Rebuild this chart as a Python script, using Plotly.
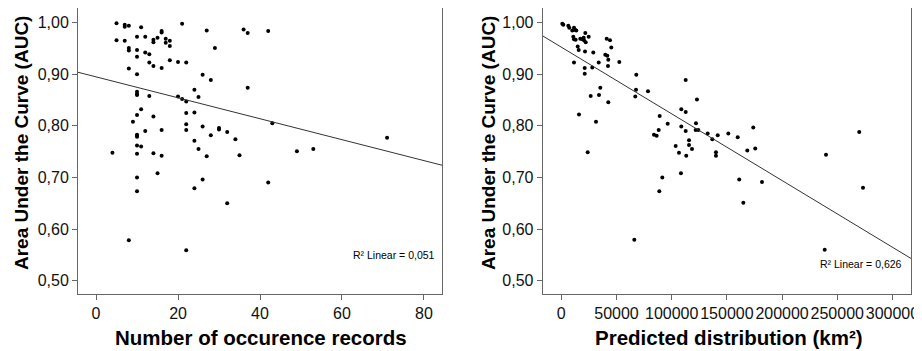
import plotly.graph_objects as go

# ---- data ----
occ_records = [5, 7, 7, 8, 11, 21, 27, 36, 37,
               5, 7, 10, 12, 14, 14, 15, 16, 16, 17, 17, 18, 18,
               8, 8, 10, 10, 12, 13, 13, 14, 16, 18, 20, 22, 29,
               8, 10, 26, 28, 37,
               10, 10, 10, 13, 20, 21, 22, 24, 25,
               11, 10, 9, 14, 22, 24,
               22, 22, 26, 30, 30, 32, 34, 28, 16, 12, 10, 10, 10, 24, 10, 11, 25, 4, 10, 14, 16, 27, 35,
               10, 15, 10, 26, 24, 32, 8, 22,
               42, 43, 49, 53, 71, 42]
auc_left = [0.999, 0.996, 0.992, 0.994, 0.991, 0.998, 0.985, 0.987, 0.980,
            0.966, 0.965, 0.973, 0.973, 0.967, 0.962, 0.971, 0.984, 0.981, 0.969, 0.961, 0.965, 0.955,
            0.951, 0.946, 0.947, 0.934, 0.942, 0.939, 0.923, 0.916, 0.912, 0.927, 0.924, 0.923, 0.951,
            0.911, 0.900, 0.899, 0.889, 0.874,
            0.866, 0.862, 0.860, 0.858, 0.857, 0.852, 0.847, 0.870, 0.856,
            0.832, 0.821, 0.808, 0.818, 0.825, 0.826,
            0.803, 0.792, 0.799, 0.796, 0.793, 0.788, 0.774, 0.782, 0.792, 0.790, 0.783, 0.781, 0.779,
            0.771, 0.762, 0.760, 0.755, 0.748, 0.746, 0.747, 0.742, 0.741, 0.743,
            0.700, 0.708, 0.673, 0.696, 0.679, 0.650, 0.578, 0.559,
            0.984, 0.805, 0.751, 0.755, 0.777, 0.690]

pred_dist = [906, 1800, 6340, 7250, 9960, 11500, 12700, 13590, 21740,
             10870, 11500, 13000, 17210, 19020, 20560, 20260, 22100, 24800, 41120, 44110, 45290,
             14850, 15760, 21470, 28990, 39860, 41670, 42570, 42300, 52540, 33880, 11500, 21200, 28080, 21200,
             67940, 112700, 67670, 35330, 78530, 26630, 34150, 67030, 42570, 122900,
             108700, 112700, 16030, 89120, 31430, 96360, 108700, 122000, 88220, 112700, 121700, 124100,
             132600, 136800, 141700, 83970, 86390, 115700, 115700, 118400, 103600, 106600, 113200, 23900,
             140100, 140100,
             91490, 88770, 108400, 66130,
             151300, 159800, 173900, 168500, 175700, 239800, 269900,
             161200, 181800, 164900, 273300, 238600]
auc_right = [0.998, 0.996, 0.994, 0.990, 0.985, 0.990, 0.986, 0.985, 0.980,
             0.973, 0.968, 0.967, 0.969, 0.968, 0.966, 0.971, 0.962, 0.973, 0.969, 0.966, 0.952,
             0.954, 0.947, 0.944, 0.942, 0.938, 0.936, 0.928, 0.916, 0.924, 0.923, 0.923, 0.912, 0.913, 0.901,
             0.899, 0.889, 0.870, 0.874, 0.867, 0.858, 0.860, 0.857, 0.846, 0.851,
             0.832, 0.827, 0.822, 0.819, 0.808, 0.804, 0.799, 0.805, 0.792, 0.790, 0.792, 0.792,
             0.785, 0.774, 0.782, 0.783, 0.781, 0.772, 0.763, 0.755, 0.761, 0.748, 0.742, 0.749,
             0.749, 0.742,
             0.700, 0.673, 0.708, 0.579,
             0.785, 0.778, 0.797, 0.752, 0.756, 0.744, 0.788,
             0.696, 0.691, 0.651, 0.680, 0.560]

# linear fits as shown in the reference
fit_left = (0.895, -0.00203)        # intercept, slope
fit_right = (0.9526, -1.293e-6)
r2_left = "R² Linear = 0,051"
r2_right = "R² Linear = 0,626"

xrange_left = [-4.4, 84.4]
xrange_right = [-16850, 316800]
yrange = [0.475, 1.0285]

x_ticks_left = [0, 20, 40, 60, 80]
x_ticks_right = [0, 50000, 100000, 150000, 200000, 250000, 300000]
y_ticks = [0.5, 0.6, 0.7, 0.8, 0.9, 1.0]

FONT = "Liberation Sans, Arial, sans-serif"

# page body has an 8px margin: figure occupies 914x343 starting at (8, 8)
W, H, OFF = 914, 343, 8


def px(x):
    return min(1.0, max(0.0, (x - OFF) / W))


def py(y):
    return min(1.0, max(0.0, 1 - (y - OFF) / H))


fig = go.Figure()
fig.add_trace(go.Scatter(x=occ_records, y=auc_left, mode="markers",
                         marker=dict(color="black", size=4), xaxis="x", yaxis="y"))
fig.add_trace(go.Scatter(x=xrange_left,
                         y=[fit_left[0] + fit_left[1] * v for v in xrange_left],
                         mode="lines", line=dict(color="#333", width=1), xaxis="x", yaxis="y"))
fig.add_trace(go.Scatter(x=pred_dist, y=auc_right, mode="markers",
                         marker=dict(color="black", size=4), xaxis="x2", yaxis="y2"))
fig.add_trace(go.Scatter(x=xrange_right,
                         y=[fit_right[0] + fit_right[1] * v for v in xrange_right],
                         mode="lines", line=dict(color="#333", width=1), xaxis="x2", yaxis="y2"))

axis_common = dict(showline=True, linecolor="#666", linewidth=1, mirror=True,
                   ticks="outside", ticklen=5, tickcolor="#666", showgrid=False, zeroline=False,
                   automargin=False, tickangle=0,
                   tickfont=dict(family=FONT, size=16, color="#111"))
ydom = [py(293.5), py(8)]

fig.update_layout(
    width=W, height=H, margin=dict(l=0, r=0, t=0, b=0),
    paper_bgcolor="white", plot_bgcolor="white", showlegend=False,
    separators=",.",
    xaxis=dict(domain=[px(78), px(442)], range=xrange_left, tickvals=x_ticks_left,
               anchor="y", **axis_common),
    yaxis=dict(domain=ydom, range=yrange, tickvals=y_ticks, tickformat=".2f",
               anchor="x", **axis_common),
    xaxis2=dict(domain=[px(542.7), px(911)], range=xrange_right, tickvals=x_ticks_right,
                tickformat="d", anchor="y2", **axis_common),
    yaxis2=dict(domain=ydom, range=yrange, tickvals=y_ticks, tickformat=".2f",
                anchor="x2", **axis_common),
)

ytitle_font = dict(family=FONT, size=19, color="black")
xtitle_font = dict(family=FONT, size=20.5, color="black")
anns = [
    dict(text="<b>Area Under the Curve (AUC)</b>", x=px(21), y=py(143), textangle=-90, font=ytitle_font),
    dict(text="<b>Area Under the Curve (AUC)</b>", x=px(488), y=py(143), textangle=-90, font=ytitle_font),
    dict(text="<b>Number of occurence records</b>", x=px(261), y=py(337), font=xtitle_font),
    dict(text="<b>Predicted distribution (km²)</b>", x=px(729), y=py(337), font=xtitle_font),
]
for a in anns:
    fig.add_annotation(xref="paper", yref="paper", showarrow=False,
                       xanchor="center", yanchor="middle", **a)
fig.add_annotation(xref="paper", yref="paper", x=px(437), y=py(255), text=r2_left,
                   showarrow=False, xanchor="right", yanchor="middle",
                   font=dict(family=FONT, size=10.5, color="black"))
fig.add_annotation(xref="paper", yref="paper", x=px(904), y=py(264), text=r2_right,
                   showarrow=False, xanchor="right", yanchor="middle",
                   font=dict(family=FONT, size=10.5, color="black"))

fig.write_html("out.html")
